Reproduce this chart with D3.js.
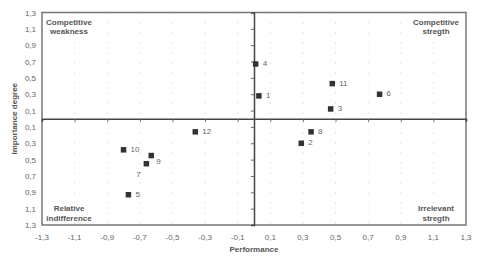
<!DOCTYPE html>
<html>
<head>
<meta charset="utf-8">
<script src="https://cdn.jsdelivr.net/npm/d3@7"></script>
<style>
  body { margin: 0; background: #fff; }
  svg { display: block; font-family: "Liberation Sans", Arial, sans-serif; }
</style>
</head>
<body>
<svg id="drawing_region"></svg>
<script>
// data
const labels      = ["1", "2", "3", "4", "5", "6", "7", "8", "9", "10", "11", "12"];
const performance = [0.03, 0.29, 0.47, 0.01, -0.77, 0.77, -0.66, 0.35, -0.63, -0.80, 0.48, -0.36];
const importance  = [0.28, -0.30, 0.12, 0.67, -0.93, 0.30, -0.55, -0.16, -0.45, -0.38, 0.43, -0.16];
const tickValues  = [-1.3, -1.1, -0.9, -0.7, -0.5, -0.3, -0.1, 0.1, 0.3, 0.5, 0.7, 0.9, 1.1, 1.3];
const quadrants   = [
    { lines: ["Competitive", "weakness"], x: -1.3, y: 1.3 },
    { lines: ["Competitive", "stregth"], x: 1.3, y: 1.3 },
    { lines: ["Relative", "indifference"], x: -1.3, y: -1.3 },
    { lines: ["Irrelevant", "stregth"], x: 1.3, y: -1.3 },
];

// label placement tweaks (dx, dy in px)
const labelOffset = { "7": [-10, 10], "9": [5, 5] };

const config = {
    parent: '#drawing_region',
    width: 484,
    height: 259,
    margin: { top: 12.5, right: 18, bottom: 34, left: 42 }
};

const fmt = v => d3.format(".1f")(Math.abs(v)).replace(".", ",");

const svg = d3.select(config.parent)
    .attr('width', config.width)
    .attr('height', config.height);

const m = config.margin;
const x = d3.scaleLinear().domain([-1.3, 1.3]).range([m.left, config.width - m.right]);
const y = d3.scaleLinear().domain([-1.3, 1.3]).range([config.height - m.bottom, m.top]);

// dotted vertical grid
svg.append('g')
    .selectAll('line')
    .data(tickValues.slice(1, -1))
    .enter()
    .append('line')
    .attr('x1', d => x(d)).attr('x2', d => x(d))
    .attr('y1', y(1.3)).attr('y2', y(-1.3))
    .attr('stroke', '#c8c8c8')
    .attr('stroke-width', 1)
    .attr('stroke-dasharray', '1,9');

// outer frame
svg.append('rect')
    .attr('x', x(-1.3)).attr('y', y(1.3))
    .attr('width', x(1.3) - x(-1.3))
    .attr('height', y(-1.3) - y(1.3))
    .attr('fill', 'none')
    .attr('stroke', '#777')
    .attr('stroke-width', 1.5);

// center axes with small ticks
const xAxis = d3.axisBottom(x).tickValues(tickValues.slice(1, -1)).tickSize(3).tickFormat('');
const yAxis = d3.axisLeft(y).tickValues(tickValues.slice(1, -1)).tickSize(3).tickFormat('');

svg.append('g')
    .attr('transform', `translate(0, ${y(0)})`)
    .call(xAxis)
    .call(g => g.select('.domain').attr('stroke', '#444').attr('stroke-width', 1.5))
    .call(g => g.selectAll('.tick line').attr('stroke', '#666'));

svg.append('g')
    .attr('transform', `translate(${x(0)}, 0)`)
    .call(yAxis)
    .call(g => g.select('.domain').attr('stroke', '#444').attr('stroke-width', 1.5))
    .call(g => g.selectAll('.tick line').attr('stroke', '#666'));

// x tick labels
svg.append('g')
    .selectAll('text')
    .data(tickValues)
    .enter()
    .append('text')
    .attr('x', d => x(d))
    .attr('y', y(-1.3) + 15)
    .attr('text-anchor', 'middle')
    .attr('font-size', '8px')
    .attr('fill', '#666')
    .text(d => (d < 0 ? '-' : '') + fmt(d));

// y tick labels (absolute values)
svg.append('g')
    .selectAll('text')
    .data(tickValues)
    .enter()
    .append('text')
    .attr('x', m.left - 6)
    .attr('y', d => y(d) + 3)
    .attr('text-anchor', 'end')
    .attr('font-size', '8px')
    .attr('fill', '#666')
    .text(d => fmt(d));

// axis titles
svg.append('text')
    .attr('x', x(0))
    .attr('y', 252)
    .attr('text-anchor', 'middle')
    .attr('font-size', '8px')
    .attr('font-weight', 'bold')
    .attr('fill', '#555')
    .text('Performance');

svg.append('text')
    .attr('transform', `translate(17, ${y(0)}) rotate(-90)`)
    .attr('text-anchor', 'middle')
    .attr('font-size', '8px')
    .attr('font-weight', 'bold')
    .attr('fill', '#555')
    .text('Importance degree');

// quadrant labels
const q = svg.append('g');
quadrants.forEach(d => {
    const cx = d.x < 0 ? x(d.x) + 27 : x(d.x) - 30;
    const cy = d.y > 0 ? y(d.y) + 12 : y(d.y) - 14;
    const t = q.append('text')
        .attr('text-anchor', 'middle')
        .attr('font-size', '8px')
        .attr('font-weight', 'bold')
        .attr('fill', '#555');
    d.lines.forEach((line, i) => {
        t.append('tspan').attr('x', cx).attr('y', cy + i * 9.5).text(line);
    });
});

// points
const points = labels.map((l, i) => ({ label: l, x: performance[i], y: importance[i] }));
const s = 5.5;

svg.append('g')
    .selectAll('rect')
    .data(points)
    .enter()
    .append('rect')
    .attr('x', d => x(d.x) - s / 2)
    .attr('y', d => y(d.y) - s / 2)
    .attr('width', s)
    .attr('height', s)
    .attr('fill', '#333');

svg.append('g')
    .selectAll('text')
    .data(points)
    .enter()
    .append('text')
    .attr('x', d => x(d.x) + (labelOffset[d.label] ? labelOffset[d.label][0] : 7))
    .attr('y', d => y(d.y) + 3 + (labelOffset[d.label] ? labelOffset[d.label][1] : -1))
    .attr('font-size', '8px')
    .attr('fill', '#666')
    .text(d => d.label);
</script>
</body>
</html>
